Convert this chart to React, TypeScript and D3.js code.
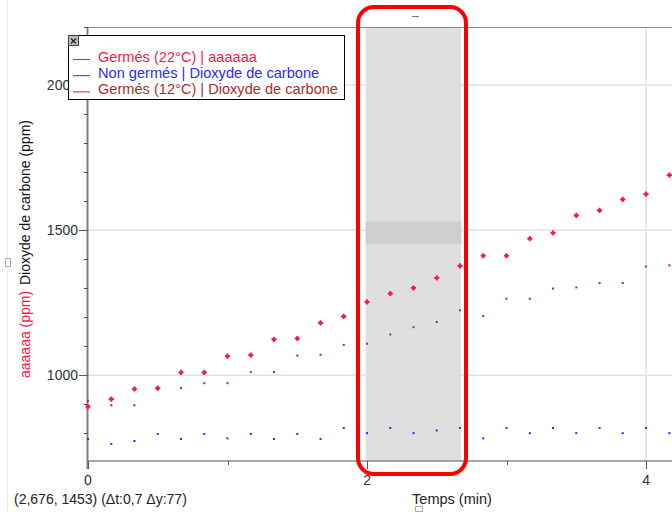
import * as d3 from "d3";

const times = [
  0, 0.167, 0.333, 0.5, 0.667, 0.833, 1, 1.167, 1.333, 1.5, 1.667, 1.833, 2,
  2.167, 2.333, 2.5, 2.667, 2.833, 3, 3.167, 3.333, 3.5, 3.667, 3.833, 4, 4.167,
];
const germes22 = [
  892, 918, 953, 956, 1010, 1010, 1066, 1070, 1124, 1127, 1181, 1203, 1253,
  1282, 1301, 1336, 1377, 1412, 1412, 1471, 1491, 1551, 1568, 1606, 1624, 1690,
];
const nonGermes = [
  781, 764, 774, 798, 781, 798, 783, 798, 781, 798, 781, 819, 801, 819, 801,
  810, 819, 783, 819, 801, 819, 801, 819, 801, 819, 801,
];
const germes12 = [
  913, 897, 897, 952, 956, 973, 973, 1011, 1011, 1068, 1071, 1105, 1109, 1141,
  1166, 1184, 1224, 1204, 1264, 1264, 1299, 1303, 1318, 1318, 1375, 1379,
];
const legendLabels = [
  "Germés (22°C) | aaaaaa",
  "Non germés | Dioxyde de carbone",
  "Germés (12°C) | Dioxyde de carbone",
];
const yTickLabels = [1000, 1500, 2000];
const xTickLabels = [0, 2, 4];
const selectionT = [1.99, 2.676];
const selectionY = [1453, 1530];
const statusText = "(2,676, 1453) (Δt:0,7 Δy:77)";

const RED = "#ff1447";
const BLUE = "#2a2aff";
const DARKRED = "#b02c2c";
const FONT = "'Liberation Sans', Arial, sans-serif";

const width = 672;
const height = 512;
const left = 88;
const right = 672;
const top = 27;
const bottom = 461;

export default function App() {
  const x = d3.scaleLinear().domain([0, 4.186]).range([left, right]);
  const y = d3.scaleLinear().domain([705, 2200]).range([bottom, top]);

  const minorY = d3.range(800, 2201, 100);
  const minorX = [1, 3];
  const cross = d3.symbol().type(d3.symbolCross).size(15)();

  const series = [
    { values: germes22, color: RED },
    { values: nonGermes, color: BLUE },
    { values: germes12, color: DARKRED },
  ];

  return (
    <svg
      width={width}
      height={height}
      style={{ position: "absolute", left: 0, top: 0, background: "#fff" }}
      fontFamily={FONT}
    >
      <rect width={width} height={height} fill="#fff" />
      <line x1={7.5} x2={7.5} y1={0} y2={height} stroke="#ececec" />
      <rect x={5.5} y={258.5} width={5} height={8} fill="#fff" stroke="#b0b0b0" />
      <rect x={415.5} y={506.5} width={7} height={5} fill="#fff" stroke="#b0b0b0" />
      <line x1={412} x2={419} y1={16.5} y2={16.5} stroke="#777" />

      {/* grid */}
      {yTickLabels.map((v) => (
        <line key={"gy" + v} x1={left} x2={right} y1={y(v)} y2={y(v)} stroke="#e2e2e2" strokeWidth={1.5} />
      ))}
      {xTickLabels.filter((v) => v > 0).map((v) => (
        <line key={"gx" + v} x1={x(v)} x2={x(v)} y1={top} y2={bottom} stroke="#e2e2e2" strokeWidth={1.5} />
      ))}

      {/* selection band */}
      <rect
        x={x(selectionT[0])}
        y={top + 1}
        width={x(selectionT[1]) - x(selectionT[0])}
        height={bottom - top - 1}
        fill="#dfdfdf"
      />
      <rect
        x={x(selectionT[0])}
        y={y(selectionY[1])}
        width={x(selectionT[1]) - x(selectionT[0])}
        height={y(selectionY[0]) - y(selectionY[1])}
        fill="#cfcfcf"
      />

      {/* frame */}
      <line x1={left} x2={right} y1={top + 0.5} y2={top + 0.5} stroke="#8a8a8a" />
      <line x1={left} x2={right} y1={bottom} y2={bottom} stroke="#8a8a8a" strokeWidth={1.5} />
      <line x1={left - 0.5} x2={left - 0.5} y1={top} y2={bottom + 8} stroke="#808080" strokeWidth={2} />

      {/* y ticks */}
      {minorY.map((v) => (
        <line key={"my" + v} x1={left - 4} x2={left} y1={Math.round(y(v)) + 0.5} y2={Math.round(y(v)) + 0.5} stroke="#555" />
      ))}
      {yTickLabels.map((v) => (
        <g key={"ty" + v}>
          <line x1={left - 9} x2={left} y1={Math.round(y(v)) + 0.5} y2={Math.round(y(v)) + 0.5} stroke="#555" />
          <text x={left - 10} y={y(v) + 5} textAnchor="end" fontSize={14} fill="#333">
            {v}
          </text>
        </g>
      ))}

      {/* x ticks */}
      {minorX.map((v) => (
        <line key={"mx" + v} x1={Math.round(x(v)) + 0.5} x2={Math.round(x(v)) + 0.5} y1={bottom} y2={bottom + 4} stroke="#555" />
      ))}
      {xTickLabels.map((v) => (
        <g key={"tx" + v}>
          <line x1={Math.round(x(v)) + 0.5} x2={Math.round(x(v)) + 0.5} y1={bottom} y2={bottom + 8} stroke="#555" />
          <text x={x(v)} y={485} textAnchor="middle" fontSize={14} fill="#333">
            {v}
          </text>
        </g>
      ))}

      {/* points */}
      <g>
        {series.map((s, si) =>
          s.values.map((v, i) =>
            si === 0 ? (
              <g key={si + "-" + i} transform={`translate(${x(times[i])},${y(v)})`} fill={s.color}>
                <path d={cross} />
                <circle r={1.9} />
              </g>
            ) : (
              <rect key={si + "-" + i} x={x(times[i]) - 1} y={y(v) - 1} width={2} height={2} fill={s.color} />
            )
          )
        )}
      </g>

      {/* axis titles */}
      <text transform={`translate(30,378) rotate(-90)`} fontSize={14} fill={RED}>
        aaaaaa (ppm)
      </text>
      <text transform={`translate(30,285) rotate(-90)`} fontSize={14} fill="#111">
        Dioxyde de carbone (ppm)
      </text>
      <text x={452} y={504} textAnchor="middle" fontSize={14.5} fill="#222">
        Temps (min)
      </text>
      <text x={14} y={504} fontSize={14} fill="#222">
        {statusText}
      </text>

      {/* legend */}
      <rect x={68.5} y={35.5} width={276} height={64} fill="#fff" stroke="#000" />
      <rect x={68.5} y={35.5} width={10} height={10} fill="#bdbdbd" stroke="#444" />
      <path d="M71,38.5 L76,43.5 M76,38.5 L71,43.5" stroke="#222" strokeWidth={1.2} />
      {legendLabels.map((label, i) => {
        const c = series[i].color;
        const yy = 59.5 + i * 16.2;
        return (
          <g key={label}>
            <line x1={73} x2={90} y1={yy} y2={yy} stroke={c} />
            <text x={98} y={yy + 2.5} fontSize={14.6} fill={c}>
              {label}
            </text>
          </g>
        );
      })}

      {/* annotation */}
      <rect x={358} y={7} width={108} height={467} rx={16} ry={16} fill="none" stroke="#ff0000" strokeWidth={4} />
    </svg>
  );
}
